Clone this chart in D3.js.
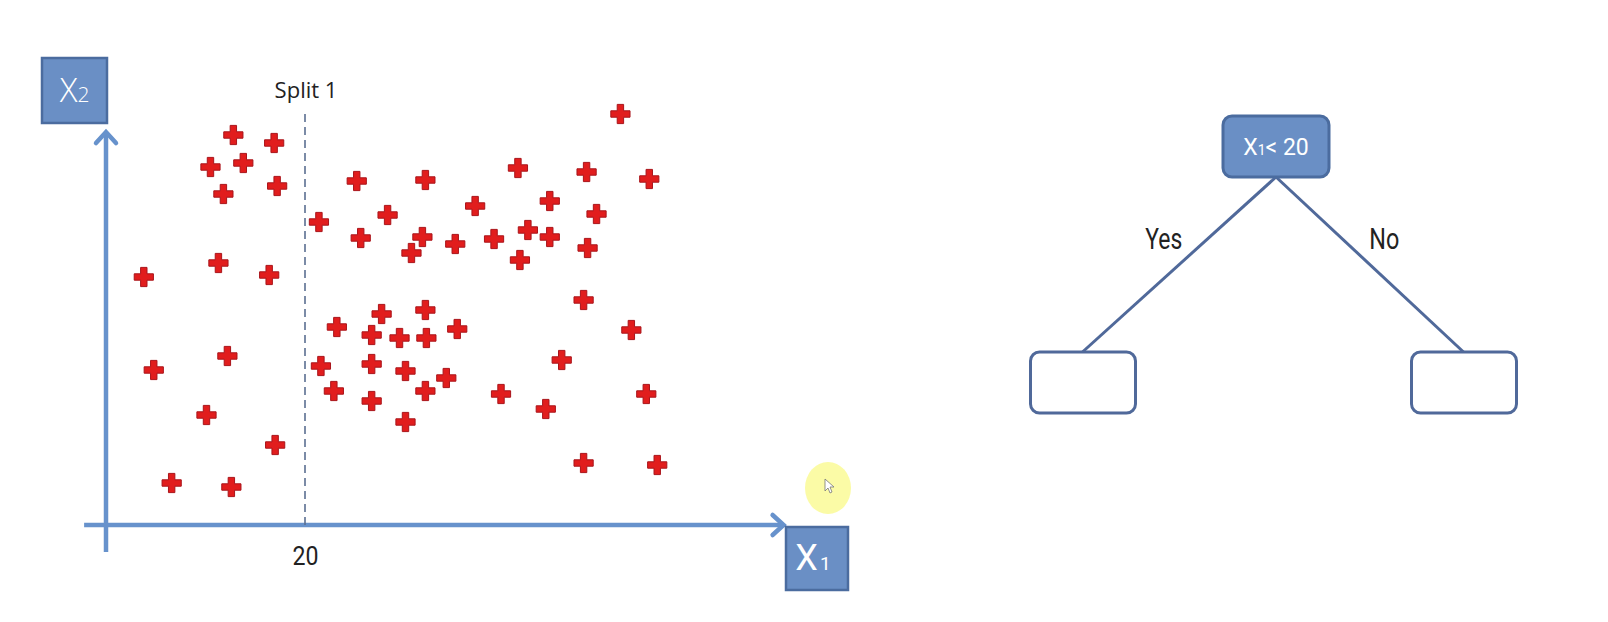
<!DOCTYPE html>
<html>
<head>
<meta charset="utf-8">
<script src="https://cdn.jsdelivr.net/npm/d3@7/dist/d3.min.js"></script>
<style>
  html, body { margin: 0; padding: 0; background: #fff; }
  svg { display: block; }
</style>
</head>
<body>
<svg id="chart" width="1608" height="622"></svg>
<script>
// scatter values (X1, X2)
const pointsX1 = [12.8, 16.9, 10.5, 13.8, 11.8, 17.2, 3.8, 11.3, 16.4, 4.8, 12.2, 10.1, 17.0, 6.6, 12.6,
  51.7, 21.4, 25.2, 32.1, 28.3, 25.6, 31.8, 30.7, 35.1, 37.1, 41.4, 39.0, 42.4, 41.6, 44.6, 44.6, 48.3, 49.3, 48.4, 54.6,
  48.0, 52.8, 23.2, 27.7, 32.1, 26.7, 29.5, 32.2, 35.3, 21.6, 26.7, 30.1, 22.9, 26.7, 32.1, 34.2, 30.1, 39.7, 45.8, 44.2, 54.3,
  48.0, 55.4];
const pointsX2 = [39.0, 38.2, 35.8, 36.2, 33.1, 33.9, 24.8, 26.2, 25.0, 15.5, 16.9, 11.0, 8.0, 4.2, 3.8,
  41.1, 30.3, 34.4, 34.5, 31.0, 28.7, 28.8, 27.2, 28.1, 31.9, 35.7, 28.6, 29.5, 26.5, 32.4, 28.8, 35.3, 31.1, 27.7, 34.6,
  22.5, 19.5, 19.8, 21.1, 21.5, 19.0, 18.7, 18.7, 19.6, 15.9, 16.1, 15.4, 13.4, 12.4, 13.4, 14.7, 10.3, 13.1, 16.5, 11.6, 13.1,
  6.2, 6.0];

const splitValue = 20;
const xTicks = [20];
const splitLabel = "Split 1";
const rootLabel = { main: "X", sub: "1", rest: "< 20" };
const branchLabels = ["Yes", "No"];

const narrow = "'Liberation Sans Narrow', 'Arial Narrow', Roboto, sans-serif";
const axisBlue = "#6792cc";
const boxFill = "#6a8fc5";
const boxStroke = "#4b6c9f";

const svg = d3.select("#chart");
svg.append("rect").attr("width", 1608).attr("height", 622).attr("fill", "#fff");

// scales: 20 sits on the split line, x-axis at X2 = 0
const x = d3.scaleLinear().domain([0, 20]).range([106, 305]);
const y = d3.scaleLinear().domain([0, 10]).range([525, 425]);

const plot = svg.append("g");

// axes drawn as arrows
const xEnds = [-2.2, 68.1];
const yEnds = [-2.7, 39.3];

plot.append("line")
  .attr("x1", x(xEnds[0])).attr("x2", x(xEnds[1]))
  .attr("y1", y(0)).attr("y2", y(0))
  .attr("stroke", axisBlue).attr("stroke-width", 4.5);
plot.append("path")
  .attr("d", `M${x(xEnds[1]) - 11},${y(0) - 10} L${x(xEnds[1])},${y(0)} L${x(xEnds[1]) - 11},${y(0) + 10}`)
  .attr("fill", "none").attr("stroke", axisBlue).attr("stroke-width", 4.5)
  .attr("stroke-linecap", "round");

plot.append("line")
  .attr("x1", x(0)).attr("x2", x(0))
  .attr("y1", y(yEnds[0])).attr("y2", y(yEnds[1]))
  .attr("stroke", axisBlue).attr("stroke-width", 4.5);
plot.append("path")
  .attr("d", `M${x(0) - 10},${y(yEnds[1]) + 11} L${x(0)},${y(yEnds[1])} L${x(0) + 10},${y(yEnds[1]) + 11}`)
  .attr("fill", "none").attr("stroke", axisBlue).attr("stroke-width", 4.5)
  .attr("stroke-linecap", "round");

// split line
plot.append("line")
  .attr("x1", x(splitValue)).attr("x2", x(splitValue))
  .attr("y1", y(0)).attr("y2", y(41.5))
  .attr("stroke", "#5b6f91").attr("stroke-width", 1.6)
  .attr("stroke-dasharray", "8,5");

plot.append("text")
  .attr("x", x(splitValue) + 1).attr("y", 98)
  .attr("text-anchor", "middle")
  .attr("font-family", "'Open Sans', sans-serif")
  .attr("font-size", 22)
  .attr("fill", "#222")
  .text(splitLabel);

// tick label "20"
const xAxis = plot.append("g")
  .attr("transform", `translate(0,${y(0)})`)
  .call(d3.axisBottom(x).tickValues(xTicks).tickSize(0).tickPadding(22));
xAxis.select(".domain").remove();
xAxis.selectAll("text")
  .attr("font-family", narrow)
  .attr("font-size", 25)
  .attr("textLength", 26)
  .attr("lengthAdjust", "spacingAndGlyphs")
  .attr("fill", "#222");

// axis name boxes
const x2Box = plot.append("g");
x2Box.append("rect")
  .attr("x", 42).attr("y", 58).attr("width", 65).attr("height", 65)
  .attr("fill", boxFill).attr("stroke", boxStroke).attr("stroke-width", 2.5);
const x2Text = x2Box.append("text")
  .attr("x", 74.5).attr("y", 102)
  .attr("text-anchor", "middle")
  .attr("font-family", "'Open Sans', sans-serif")
  .attr("font-weight", 300)
  .attr("fill", "#fff");
x2Text.append("tspan").attr("font-size", 33).text("X");
x2Text.append("tspan").attr("font-size", 21).text("2");

const x1Box = plot.append("g");
x1Box.append("rect")
  .attr("x", 786).attr("y", 527).attr("width", 62).attr("height", 63)
  .attr("fill", boxFill).attr("stroke", boxStroke).attr("stroke-width", 2.5);
const x1Text = x1Box.append("text")
  .attr("x", 813).attr("y", 570)
  .attr("text-anchor", "middle")
  .attr("font-family", narrow)
  .attr("fill", "#fff");
x1Text.append("tspan").attr("font-size", 36).text("X");
x1Text.append("tspan").attr("font-size", 19).attr("dx", 2).text("1");

// crosses
const cross = d3.symbol().type(d3.symbolCross).size(205);
plot.selectAll("path.pt")
  .data(d3.range(pointsX1.length))
  .join("path")
  .attr("class", "pt")
  .attr("d", cross)
  .attr("transform", i => `translate(${x(pointsX1[i])},${y(pointsX2[i])})`)
  .attr("fill", "#e11d1d")
  .attr("stroke", "#a9141a")
  .attr("stroke-width", 1);

// cursor highlight
svg.append("ellipse")
  .attr("cx", 828).attr("cy", 488).attr("rx", 23).attr("ry", 26)
  .attr("fill", "#fbfb9c").attr("opacity", 0.9);
svg.append("path")
  .attr("d", "M825,479 L825,491 L828,488 L830,493 L832,492 L830,487 L834,487 Z")
  .attr("fill", "#fff").attr("stroke", "#777").attr("stroke-width", 0.8);

// decision tree: root anchored at its bottom edge, leaves at their top edge
const treeData = d3.hierarchy({ name: "root", children: [{ name: "yes" }, { name: "no" }] });
d3.tree().nodeSize([381, 175])(treeData);

const tree = svg.append("g").attr("transform", "translate(1273,177)");

tree.selectAll("line.link")
  .data(treeData.links())
  .join("line")
  .attr("class", "link")
  .attr("x1", d => d.source.x + 3).attr("y1", d => d.source.y)
  .attr("x2", d => d.target.x).attr("y2", d => d.target.y)
  .attr("stroke", "#50699a").attr("stroke-width", 3);

const rootNode = treeData;
tree.append("rect")
  .attr("x", rootNode.x - 50).attr("y", rootNode.y - 61)
  .attr("width", 106).attr("height", 61).attr("rx", 9)
  .attr("fill", boxFill).attr("stroke", boxStroke).attr("stroke-width", 3);
const rt = tree.append("text")
  .attr("x", rootNode.x + 3).attr("y", rootNode.y - 22)
  .attr("text-anchor", "middle")
  .attr("font-family", narrow)
  .attr("fill", "#fff");
rt.append("tspan").attr("font-size", 23).text(rootLabel.main);
rt.append("tspan").attr("font-size", 14).text(rootLabel.sub);
rt.append("tspan").attr("font-size", 23).text(rootLabel.rest);

tree.selectAll("rect.leaf")
  .data(treeData.leaves())
  .join("rect")
  .attr("class", "leaf")
  .attr("x", d => d.x - 52).attr("y", d => d.y)
  .attr("width", 105).attr("height", 61).attr("rx", 9)
  .attr("fill", "#fff").attr("stroke", "#50699a").attr("stroke-width", 3);

// branch labels sit beside the middle of each link
tree.selectAll("text.branch")
  .data(treeData.links())
  .join("text")
  .attr("class", "branch")
  .attr("x", (d, i) => (d.source.x + d.target.x) / 2 + (i === 0 ? -14 : 16))
  .attr("y", (d) => (d.source.y + d.target.y) / 2 - 16)
  .attr("text-anchor", "middle")
  .attr("font-family", narrow)
  .attr("font-size", 30)
  .attr("textLength", (d, i) => i === 0 ? 37 : 30)
  .attr("lengthAdjust", "spacingAndGlyphs")
  .attr("fill", "#222")
  .text((d, i) => branchLabels[i]);
</script>
</body>
</html>
